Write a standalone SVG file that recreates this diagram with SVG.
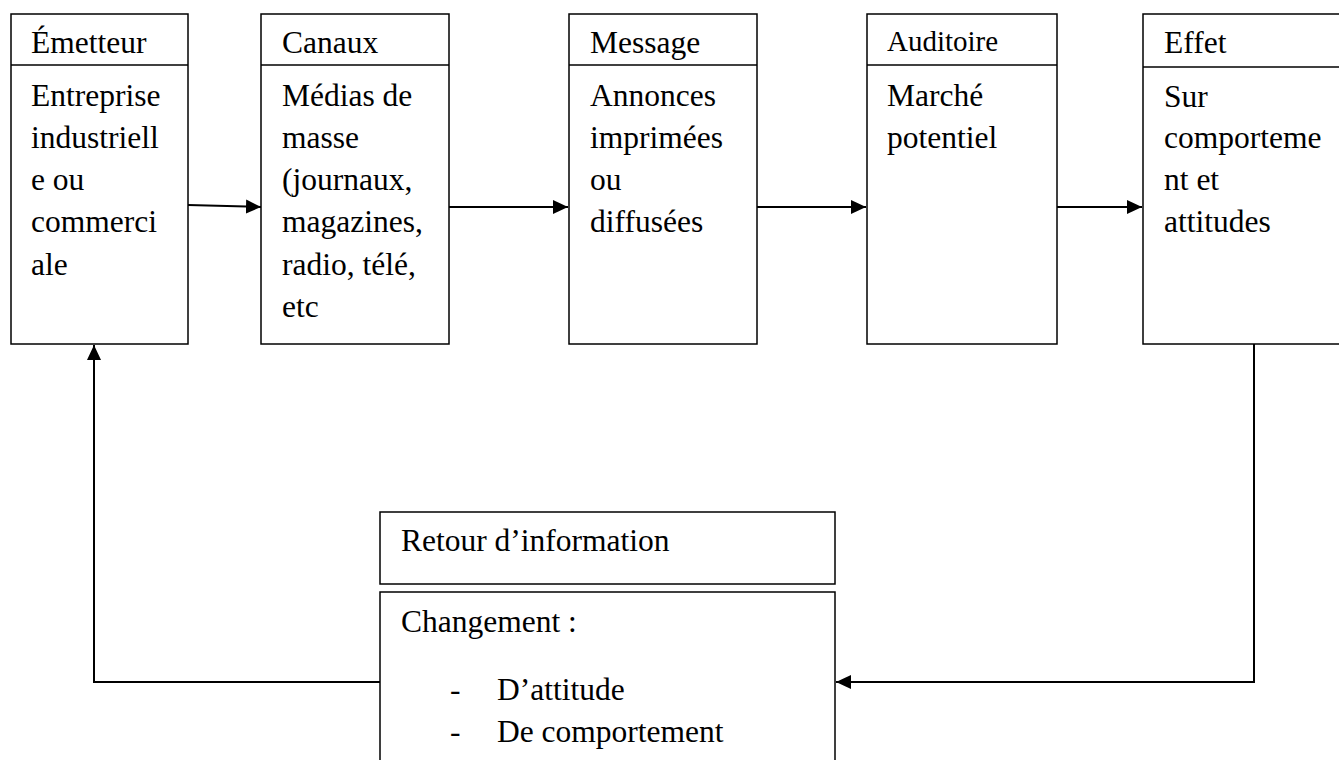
<svg xmlns="http://www.w3.org/2000/svg" width="1339" height="760" viewBox="0 0 1339 760">
  <style>
    .box { fill: #fff; stroke: #000; stroke-width: 1.5; }
    .div { stroke: #000; stroke-width: 1.5; }
    .txt { font-family: "Liberation Serif", "Times New Roman", serif; font-size: 31.5px; fill: #000; }
    .small { font-size: 29px; }
    .conn { fill: none; stroke: #000; stroke-width: 2; }
  </style>
  <defs>
    <marker id="arrow" markerUnits="userSpaceOnUse" markerWidth="16" markerHeight="16" viewBox="0 0 16 16" refX="15" refY="8" orient="auto">
      <path d="M0,1 L15,8 L0,15 Z" fill="#000"/>
    </marker>
  </defs>
  <rect width="1339" height="760" fill="#fff"/>

  <!-- connectors -->
  <g id="connectors">
    <line class="conn" x1="188" y1="205" x2="261" y2="207" marker-end="url(#arrow)"/>
    <line class="conn" x1="449" y1="207" x2="568" y2="207" marker-end="url(#arrow)"/>
    <line class="conn" x1="757" y1="207" x2="866" y2="207" marker-end="url(#arrow)"/>
    <line class="conn" x1="1057" y1="207" x2="1142" y2="207" marker-end="url(#arrow)"/>
    <!-- feedback from effect back to the sender -->
    <polyline class="conn" points="1254,344 1254,682 836,682" marker-end="url(#arrow)"/>
    <polyline class="conn" points="380,682 94,682 94,345" marker-end="url(#arrow)"/>
  </g>

  <g id="emetteur">
    <rect class="box" x="11" y="14" width="177" height="330"/>
    <line class="div" x1="11" y1="65" x2="188" y2="65"/>
    <text class="txt" x="31" y="53">Émetteur</text>
    <text class="txt" x="31" y="106">Entreprise</text>
    <text class="txt" x="31" y="148">industriell</text>
    <text class="txt" x="31" y="190">e ou</text>
    <text class="txt" x="31" y="232">commerci</text>
    <text class="txt" x="31" y="275">ale</text>
  </g>

  <g id="canaux">
    <rect class="box" x="261" y="14" width="188" height="330"/>
    <line class="div" x1="261" y1="65" x2="449" y2="65"/>
    <text class="txt" x="282" y="53">Canaux</text>
    <text class="txt" x="282" y="106">Médias de</text>
    <text class="txt" x="282" y="148">masse</text>
    <text class="txt" x="282" y="190">(journaux,</text>
    <text class="txt" x="282" y="232">magazines,</text>
    <text class="txt" x="282" y="275">radio, télé,</text>
    <text class="txt" x="282" y="317">etc</text>
  </g>

  <g id="message">
    <rect class="box" x="569" y="14" width="188" height="330"/>
    <line class="div" x1="569" y1="65" x2="757" y2="65"/>
    <text class="txt" x="590" y="53">Message</text>
    <text class="txt" x="590" y="106">Annonces</text>
    <text class="txt" x="590" y="148">imprimées</text>
    <text class="txt" x="590" y="190">ou</text>
    <text class="txt" x="590" y="232">diffusées</text>
  </g>

  <g id="auditoire">
    <rect class="box" x="867" y="14" width="190" height="330"/>
    <line class="div" x1="867" y1="65" x2="1057" y2="65"/>
    <text class="txt small" x="887" y="51">Auditoire</text>
    <text class="txt" x="887" y="106">Marché</text>
    <text class="txt" x="887" y="148">potentiel</text>
  </g>

  <g id="effet">
    <rect class="box" x="1143" y="14" width="200" height="330"/>
    <line class="div" x1="1143" y1="67" x2="1343" y2="67"/>
    <text class="txt" x="1164" y="53">Effet</text>
    <text class="txt" x="1164" y="107">Sur</text>
    <text class="txt" x="1164" y="148">comporteme</text>
    <text class="txt" x="1164" y="190">nt et</text>
    <text class="txt" x="1164" y="232">attitudes</text>
  </g>

  <g id="retour">
    <rect class="box" x="380" y="512" width="455" height="72"/>
    <text class="txt" x="401" y="551">Retour d’information</text>
  </g>

  <g id="changement">
    <rect class="box" x="380" y="592" width="455" height="200"/>
    <text class="txt" x="401" y="632">Changement :</text>
    <text class="txt" x="450" y="700">-</text>
    <text class="txt" x="497" y="700">D’attitude</text>
    <text class="txt" x="450" y="742">-</text>
    <text class="txt" x="497" y="742">De comportement</text>
  </g>
</svg>
